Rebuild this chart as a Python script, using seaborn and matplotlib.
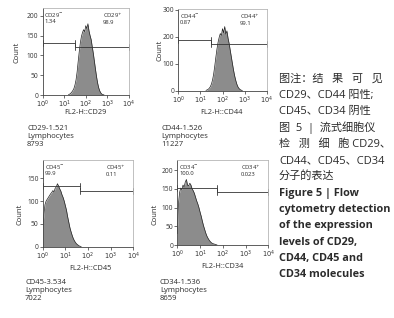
import matplotlib
matplotlib.use("Agg")
import matplotlib.pyplot as plt
import numpy as np
import seaborn as sns

# ---- data ----
markers = ["CD29", "CD44", "CD45", "CD34"]
neg_pct = ["1.34", "0.87", "99.9", "100.0"]
pos_pct = ["98.9", "99.1", "0.11", "0.023"]
sample_names = ["CD29-1.521", "CD44-1.526", "CD45-3.534", "CD34-1.536"]
event_counts = ["8793", "11227", "7022", "8659"]
y_max = [219, 302, 190, 227]
y_ticks = [[0, 50, 100, 150, 200], [0, 100, 200, 300], [0, 50, 100, 150], [0, 50, 100, 150, 200]]
x_ticks = [1, 10, 100, 1000, 10000]
x_tick_labels = ["$10^0$", "$10^1$", "$10^2$", "$10^3$", "$10^4$"]

# bisector gates: split channel (log10) and bar heights (count)
gate_split = [1.5, 1.5, 1.65, 1.75]
gate_neg_y = [132, 189, 134, 152]
gate_pos_y = [121, 174, 122, 141]

# histogram channels: first channel (log10), 0.05 decade per channel
hist_start = [1.2, 1.25, 0.0, 0.0]
hist_step = 0.05
cd29_counts = [1, 2, 4, 7, 11, 16, 25, 38, 58, 85, 110, 132, 148, 158, 165, 160, 175,
               168, 180, 162, 150, 140, 122, 105, 85, 65, 46, 30, 18, 10, 5, 2, 1, 0]
cd44_counts = [1, 3, 5, 9, 15, 25, 40, 62, 92, 125, 155, 180, 198, 212, 205, 230, 215,
               238, 210, 222, 195, 175, 150, 125, 100, 76, 55, 38, 24, 14, 8, 4, 2, 0]
cd45_counts = [35, 70, 92, 100, 104, 108, 112, 116, 119, 123, 120, 128, 131, 138, 133,
               127, 122, 114, 108, 100, 90, 80, 66, 54, 42, 33, 25, 18, 13, 9, 6, 4, 2, 1, 0]
cd34_counts = [30, 110, 140, 152, 148, 160, 155, 168, 175, 160, 158, 165, 160, 150, 145,
               138, 128, 118, 110, 100, 88, 77, 64, 52, 42, 32, 24, 18, 13, 9, 6, 4, 3, 2, 1, 0]
all_counts = [cd29_counts, cd44_counts, cd45_counts, cd34_counts]

caption_lines = [
    ("图注：结   果   可   见", "normal"),
    ("CD29、CD44 阳性;", "normal"),
    ("CD45、CD34 阴性", "normal"),
    ("图  5  |  流式细胞仪", "normal"),
    ("检   测   细   胞 CD29、", "normal"),
    ("CD44、CD45、CD34", "normal"),
    ("分子的表达", "normal"),
    ("Figure 5 | Flow", "bold"),
    ("cytometry detection", "bold"),
    ("of the expression", "bold"),
    ("levels of CD29,", "bold"),
    ("CD44, CD45 and", "bold"),
    ("CD34 molecules", "bold"),
]

# ---- layout (pixels, origin top-left) ----
W, H = 394, 318
axes_px = [(42.5, 8.3, 129, 95), (178.3, 9.3, 266.7, 90.7),
           (42.7, 160, 133.3, 246.7), (177.3, 160, 268.3, 245)]
ylabel_px = [(17, 52), (160, 50), (20, 214), (155, 214)]
xlabel_px = [(85, 113), (221, 113), (90, 268), (222, 267)]
info_px = [(27, 128), (161, 128), (25, 283), (160, 283)]

sns.set_style("ticks")
plt.rcParams["font.family"] = ["Open Sans", "DejaVu Sans"]
plt.rcParams["mathtext.fontset"] = "dejavusans"

fig = plt.figure(figsize=(W / 100, H / 100), dpi=100)
text_col = "#2b2b2b"


def fx(x):
    return x / W


def fy(y):
    return 1 - y / H


for i, marker in enumerate(markers):
    x0, y0, x1, y1 = axes_px[i]
    ax = fig.add_axes([fx(x0), fy(y1), (x1 - x0) / W, (y1 - y0) / H])
    counts = np.array(all_counts[i])
    logx = hist_start[i] + hist_step * np.arange(len(counts))
    chan = 10 ** logx
    ax.fill_between(chan, counts, color="#8c8c8c", linewidth=0)
    sns.lineplot(x=chan, y=counts, ax=ax, color="#222222", linewidth=0.5)

    ax.set_xscale("log")
    ax.set_xlim(1, 10000)
    ax.set_ylim(0, y_max[i])
    ax.set_xticks(x_ticks)
    ax.set_xticklabels(x_tick_labels)
    ax.minorticks_off()
    ax.set_yticks(y_ticks[i])
    ax.tick_params(labelsize=4.8, length=2, width=0.5, pad=1, colors="#333333")

    for side in ["left", "bottom"]:
        ax.spines[side].set_color("#444444")
        ax.spines[side].set_linewidth(0.6)
    for side in ["top", "right"]:
        ax.spines[side].set_color("#b5b5b5")
        ax.spines[side].set_linewidth(0.6)

    # gate bars
    split = 10 ** gate_split[i]
    tick_h = y_max[i] * 0.035
    ax.plot([1, split], [gate_neg_y[i]] * 2, color="#333333", lw=0.6)
    ax.plot([split, 10000], [gate_pos_y[i]] * 2, color="#333333", lw=0.6)
    for xx, yy in [(1, gate_neg_y[i]), (split, gate_neg_y[i]),
                   (split, gate_pos_y[i]), (10000, gate_pos_y[i])]:
        ax.plot([xx, xx], [yy - tick_h, yy + tick_h], color="#333333", lw=0.6,
                clip_on=False)

    ax.text(0.02, 0.965, f"{marker}$^{{-}}$\n{neg_pct[i]}", transform=ax.transAxes,
            fontsize=4.2, va="top", ha="left", color=text_col, linespacing=1.0)
    ax.text(0.70, 0.965, f"{marker}$^{{+}}$\n{pos_pct[i]}", transform=ax.transAxes,
            fontsize=4.2, va="top", ha="left", color=text_col, linespacing=1.0)

    ax.set_xlabel("")
    ax.set_ylabel("")
    lx, ly = ylabel_px[i]
    fig.text(fx(lx), fy(ly), "Count", rotation=90, fontsize=5.5, ha="center",
             va="center", color=text_col)
    bx, by = xlabel_px[i]
    fig.text(fx(bx), fy(by), f"FL2-H::{marker}", fontsize=5.3, ha="center",
             va="center", color=text_col)
    ix, iy = info_px[i]
    for k, line in enumerate([sample_names[i], "Lymphocytes", event_counts[i]]):
        fig.text(fx(ix), fy(iy + k * 8), line, fontsize=5.5, ha="left",
                 va="center", color=text_col)

# caption column on the right
for k, (line, weight) in enumerate(caption_lines):
    fig.text(fx(279), fy(79 + k * 16.3), line, fontsize=8.0 if weight == "normal" else 7.8,
             ha="left", va="center", fontweight=weight, color=text_col,
             family=["Open Sans", "Noto Sans CJK SC", "DejaVu Sans"])

fig.savefig("out.png", dpi=100)
